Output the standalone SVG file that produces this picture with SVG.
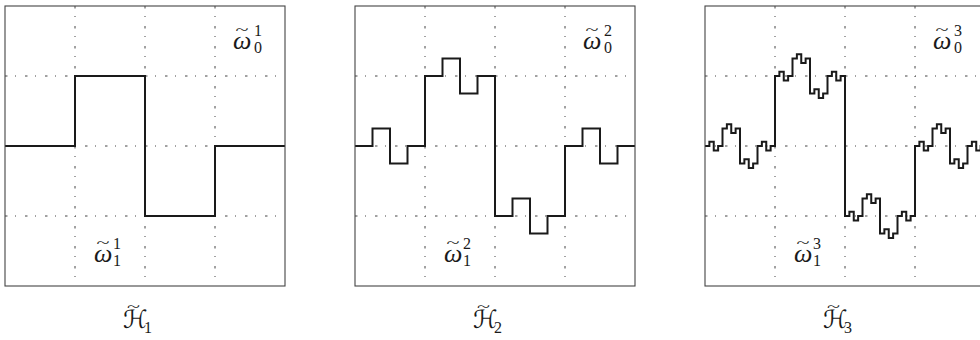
<svg xmlns="http://www.w3.org/2000/svg" width="980" height="340" viewBox="0 0 980 340">
<style>
.bg{fill:#ffffff}
.frame{fill:none;stroke:#444;stroke-width:1.1}
.grid{stroke:#444;stroke-width:1;stroke-dasharray:2.5 7.5 1 9;fill:none}
.curve{fill:none;stroke:#1a1a1a;stroke-width:2;stroke-linejoin:miter;stroke-linecap:butt}
.om{font-family:"Liberation Serif","DejaVu Serif",serif;font-style:italic;font-size:26px;fill:#1a1a1a}
.til{font-family:"Liberation Serif","DejaVu Serif",serif;font-size:20px;fill:#1a1a1a}
.scr{font-family:"Liberation Serif","DejaVu Serif",serif;font-size:16px;fill:#1a1a1a}
.cal{font-family:"DejaVu Serif","DejaVu Sans",serif;font-size:25px;fill:#1a1a1a}
</style>
<defs>
<g id="gridlines">
<path class="grid" d="M70,0V280M140,0V280M210,0V280M0,70H280M0,140H280M0,210H280"/>
</g>
</defs>
<rect class="bg" x="0" y="0" width="980" height="340"/>

<g id="panel1" transform="translate(5,6)">
<use href="#gridlines"/>
<path class="curve" d="M0,140H70V70H140V210H210V140H280"/>
<rect class="frame" x="0" y="0" width="280" height="280"/>
<text class="til" x="230.5" y="29.5" transform="translate(230.5,29.5) scale(1.2,0.7) translate(-230.5,-29.5)">~</text>
<text class="om" x="228" y="43">ω</text>
<text class="scr" x="249" y="30">1</text>
<text class="scr" x="249" y="47">0</text>
<text class="til" x="91.5" y="242.5" transform="translate(91.5,242.5) scale(1.2,0.7) translate(-91.5,-242.5)">~</text>
<text class="om" x="89" y="256">ω</text>
<text class="scr" x="108" y="243">1</text>
<text class="scr" x="108" y="260">1</text>
</g>

<g id="panel2" transform="translate(355,6)">
<use href="#gridlines"/>
<path class="curve" d="M0,140h17.5v-17.5h17.5v35h17.5v-17.5h17.5v-70h17.5v-17.5h17.5v35h17.5v-17.5h17.5v140h17.5v-17.5h17.5v35h17.5v-17.5h17.5v-70h17.5v-17.5h17.5v35h17.5v-17.5h17.5"/>
<rect class="frame" x="0" y="0" width="280" height="280"/>
<text class="til" x="230.5" y="29.5" transform="translate(230.5,29.5) scale(1.2,0.7) translate(-230.5,-29.5)">~</text>
<text class="om" x="228" y="43">ω</text>
<text class="scr" x="249" y="30">2</text>
<text class="scr" x="249" y="47">0</text>
<text class="til" x="91.5" y="242.5" transform="translate(91.5,242.5) scale(1.2,0.7) translate(-91.5,-242.5)">~</text>
<text class="om" x="89" y="256">ω</text>
<text class="scr" x="108" y="243">2</text>
<text class="scr" x="108" y="260">1</text>
</g>

<g id="panel3" transform="translate(705,6)">
<use href="#gridlines"/>
<path class="curve" d="M0,140
h4.375v-4.375h4.375v8.75h4.375v-4.375h4.375 v-17.5
h4.375v-4.375h4.375v8.75h4.375v-4.375h4.375 v35
h4.375v-4.375h4.375v8.75h4.375v-4.375h4.375 v-17.5
h4.375v-4.375h4.375v8.75h4.375v-4.375h4.375
v-70
h4.375v-4.375h4.375v8.75h4.375v-4.375h4.375 v-17.5
h4.375v-4.375h4.375v8.75h4.375v-4.375h4.375 v35
h4.375v-4.375h4.375v8.75h4.375v-4.375h4.375 v-17.5
h4.375v-4.375h4.375v8.75h4.375v-4.375h4.375
v140
h4.375v-4.375h4.375v8.75h4.375v-4.375h4.375 v-17.5
h4.375v-4.375h4.375v8.75h4.375v-4.375h4.375 v35
h4.375v-4.375h4.375v8.75h4.375v-4.375h4.375 v-17.5
h4.375v-4.375h4.375v8.75h4.375v-4.375h4.375
v-70
h4.375v-4.375h4.375v8.75h4.375v-4.375h4.375 v-17.5
h4.375v-4.375h4.375v8.75h4.375v-4.375h4.375 v35
h4.375v-4.375h4.375v8.75h4.375v-4.375h4.375 v-17.5
h4.375v-4.375h4.375v8.75h4.375v-4.375h4.375"/>
<rect class="frame" x="0" y="0" width="280" height="280"/>
<text class="til" x="230.5" y="29.5" transform="translate(230.5,29.5) scale(1.2,0.7) translate(-230.5,-29.5)">~</text>
<text class="om" x="228" y="43">ω</text>
<text class="scr" x="249" y="30">3</text>
<text class="scr" x="249" y="47">0</text>
<text class="til" x="91.5" y="242.5" transform="translate(91.5,242.5) scale(1.2,0.7) translate(-91.5,-242.5)">~</text>
<text class="om" x="89" y="256">ω</text>
<text class="scr" x="108" y="243">3</text>
<text class="scr" x="108" y="260">1</text>
</g>

<g id="label1">
<text class="til" x="127" y="312" transform="translate(127,312) scale(1.2,0.7) translate(-127,-312)">~</text>
<text class="cal" x="123" y="328">ℋ</text>
<text class="scr" x="144" y="333">1</text>
</g>
<g id="label2">
<text class="til" x="477" y="312" transform="translate(477,312) scale(1.2,0.7) translate(-477,-312)">~</text>
<text class="cal" x="473" y="328">ℋ</text>
<text class="scr" x="494" y="333">2</text>
</g>
<g id="label3">
<text class="til" x="827" y="312" transform="translate(827,312) scale(1.2,0.7) translate(-827,-312)">~</text>
<text class="cal" x="823" y="328">ℋ</text>
<text class="scr" x="844" y="333">3</text>
</g>
</svg>
